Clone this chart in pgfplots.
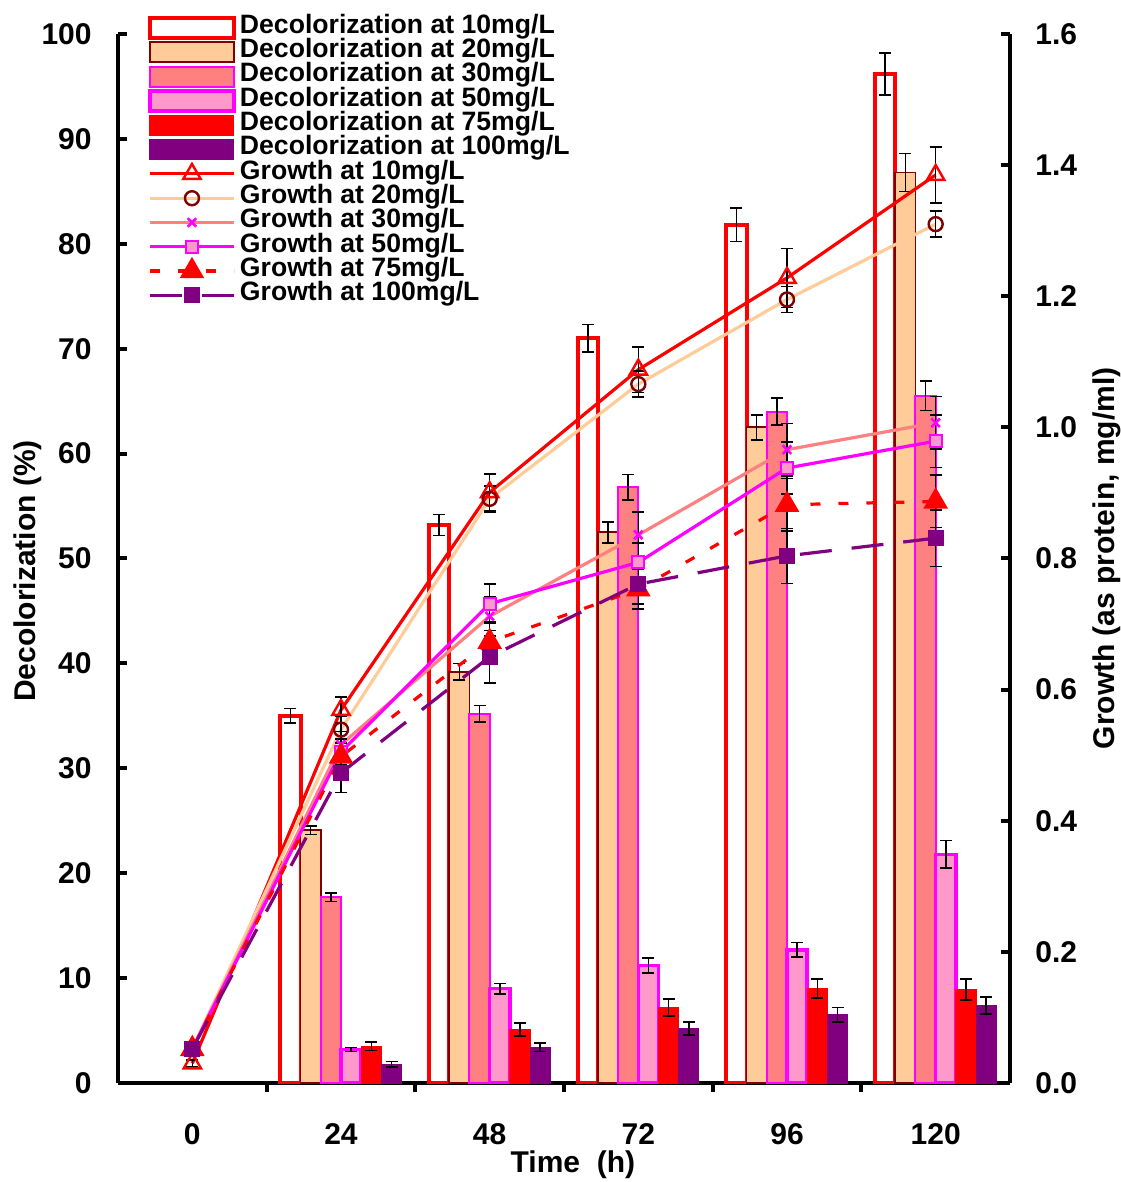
\documentclass[border=0pt]{standalone}
\usepackage{fontspec}
\setmainfont{Liberation Sans}
\usepackage{pgfplots}
\usepackage{pgfplotstable}
\pgfplotsset{compat=1.18}
\definecolor{peach}{HTML}{FFCC99}
\definecolor{dkred}{HTML}{800000}
\definecolor{salmon}{HTML}{FF8080}
\definecolor{pinkfill}{HTML}{FF99CC}
\definecolor{mag}{HTML}{FF00FF}
\definecolor{purp}{HTML}{800080}
\pgfplotstableread{
x d10 e10 d20 e20 d30 e30 d50 e50 d75 e75 d100 e100
1 35.0 0.7 24.1 0.4 17.7 0.4 3.2 0.2 3.5 0.4 1.8 0.25
2 53.2 1.0 39.2 0.8 35.2 0.8 9.0 0.5 5.1 0.6 3.4 0.4
3 71.0 1.3 52.5 1.0 56.8 1.2 11.2 0.7 7.2 0.8 5.2 0.6
4 81.8 1.6 62.5 1.2 64.0 1.3 12.7 0.7 9.0 0.9 6.5 0.7
5 96.2 2.0 86.8 1.8 65.5 1.4 21.8 1.3 8.9 1.0 7.4 0.8
}\bars
\pgfplotstableread{
x g10 ge10 g20 ge20 g30 ge30 g50 ge50 g75 ge75 g100 ge100
0 0.030 0.005 0.052 0.005 0.052 0.005 0.052 0.005 0.052 0.005 0.052 0.005
1 0.569 0.020 0.539 0.020 0.516 0.020 0.505 0.020 0.498 0.020 0.473 0.030
2 0.901 0.028 0.891 0.020 0.712 0.030 0.731 0.030 0.673 0.030 0.650 0.040
3 1.088 0.035 1.066 0.020 0.836 0.035 0.794 0.030 0.753 0.030 0.761 0.030
4 1.228 0.045 1.195 0.020 0.966 0.040 0.938 0.040 0.882 0.040 0.804 0.042
5 1.385 0.043 1.310 0.020 1.007 0.040 0.979 0.040 0.887 0.040 0.831 0.043
}\growth
\pgfplotsset{
  common/.style={
    scale only axis, width=446pt, height=524.5pt,
    xmin=-0.5, xmax=5.5,
    tick align=inside,
    axis line style={-, line width=2.2pt, black},
    tick style={black, line width=2pt},
    major tick length=4.5pt, minor tick length=4.5pt,
    /pgf/number format/assume math mode=true,
    ticklabel style={font=\bfseries\fontsize{15}{15}\selectfont, inner sep=0pt},
    label style={font=\bfseries\fontsize{15}{15}\selectfont, inner sep=0pt},
  },
  lineleg/.style={legend image code/.code={\draw[mark repeat=2,mark phase=2,##1] plot coordinates {(0pt,0pt) (21pt,0pt) (42pt,0pt)};}},
  ebars/.style={error bars/.cd, y dir=both, y explicit,
    error bar style={black, line width=0.8pt, solid},
    error mark options={rotate=90, black, line width=0.8pt, mark size=3pt, solid}},
}
\begin{document}
\begin{tikzpicture}
\useasboundingbox (-59pt,-49.5pt) rectangle (501pt,541.5pt);
\begin{axis}[common,
  axis y line*=left, axis x line*=bottom,
  ymin=0, ymax=100, ytick={0,10,...,100},
  xtick={0,...,5}, xticklabels={0,24,48,72,96,120},
  major x tick style={draw=none},
  minor xtick={0.5,1.5,2.5,3.5,4.5},
  yticklabel style={anchor=east, xshift=-13pt},
  xticklabel style={anchor=north, yshift=-15.5pt},
  xlabel={Time\ \ (h)},
  xlabel style={at={(axis description cs:0.51,-0.0639)}, anchor=north},
  ylabel={Decolorization (\%)},
  ylabel style={at={(axis description cs:-0.1177,0.488)}, anchor=north},
  ybar, bar width=0.136,
]
\addplot[ybar, bar shift=-0.34, draw=red, line width=2pt, fill=white, ebars] table[x=x, y=d10, y error=e10]{\bars};
\addplot[ybar, bar shift=-0.204, draw=dkred, line width=0.9pt, fill=peach, ebars] table[x=x, y=d20, y error=e20]{\bars};
\addplot[ybar, bar shift=-0.068, draw=mag, line width=1pt, fill=salmon, ebars] table[x=x, y=d30, y error=e30]{\bars};
\addplot[ybar, bar shift=0.068, draw=mag, line width=1.8pt, fill=pinkfill, ebars] table[x=x, y=d50, y error=e50]{\bars};
\addplot[ybar, bar shift=0.204, draw=red, line width=0.5pt, fill=red, ebars] table[x=x, y=d75, y error=e75]{\bars};
\addplot[ybar, bar shift=0.34, draw=purp, line width=0.5pt, fill=purp, ebars] table[x=x, y=d100, y error=e100]{\bars};
\end{axis}
\begin{axis}[common,
  axis y line*=right, axis x line=none,
  ymin=0, ymax=1.6, ytick={0,0.2,0.4,0.6,0.8,1.0,1.2,1.4,1.6},
  yticklabel style={anchor=west, xshift=12.5pt, /pgf/number format/.cd, fixed, fixed zerofill, precision=1},
  ylabel={Growth (as protein, mg/ml)},
  ylabel style={at={(axis description cs:1.0919,0.5)}, anchor=north},
  lineleg,
  legend style={at={(axis description cs:0.0336,1.0172)}, anchor=north west, draw=none, fill=none,
    inner sep=0pt, outer sep=0pt, row sep=0pt,
    font=\bfseries\fontsize{13.3}{13.3}\selectfont,
    nodes={inner sep=0pt, text height=8.7pt, text depth=3.45pt},
    /tikz/every odd column/.append style={column sep=2pt}},
  legend cell align=left,
]
\addlegendimage{legend image code/.code={\draw[draw=red,line width=2pt,fill=white] (0pt,-5pt) rectangle (42pt,5pt);}}
\addlegendentry{Decolorization at 10mg/L}
\addlegendimage{legend image code/.code={\draw[draw=dkred,line width=0.9pt,fill=peach] (0pt,-5pt) rectangle (42pt,5pt);}}
\addlegendentry{Decolorization at 20mg/L}
\addlegendimage{legend image code/.code={\draw[draw=mag,line width=1pt,fill=salmon] (0pt,-5pt) rectangle (42pt,5pt);}}
\addlegendentry{Decolorization at 30mg/L}
\addlegendimage{legend image code/.code={\draw[draw=mag,line width=1.8pt,fill=pinkfill] (0pt,-5pt) rectangle (42pt,5pt);}}
\addlegendentry{Decolorization at 50mg/L}
\addlegendimage{legend image code/.code={\draw[draw=red,line width=0.5pt,fill=red] (0pt,-5pt) rectangle (42pt,5pt);}}
\addlegendentry{Decolorization at 75mg/L}
\addlegendimage{legend image code/.code={\draw[draw=purp,line width=0.5pt,fill=purp] (0pt,-5pt) rectangle (42pt,5pt);}}
\addlegendentry{Decolorization at 100mg/L}
\addplot[red, line width=1.6pt, mark=triangle, mark size=5pt, mark options={solid, fill=white, draw=red, line width=1.2pt}, ebars] table[x=x, y=g10, y error=ge10]{\growth};
\addlegendentry{Growth at 10mg/L}
\addplot[peach, line width=1.6pt, mark=o, mark size=3.5pt, mark options={solid, fill=white, draw=dkred, line width=1.2pt}, ebars] table[x=x, y=g20, y error=ge20]{\growth};
\addlegendentry{Growth at 20mg/L}
\addplot[salmon, line width=1.6pt, mark=x, mark size=3pt, mark options={solid, draw=mag, line width=1.3pt}, ebars] table[x=x, y=g30, y error=ge30]{\growth};
\addlegendentry{Growth at 30mg/L}
\addplot[mag, line width=1.6pt, mark=square*, mark size=3pt, mark options={solid, fill=pinkfill, draw=mag, line width=1pt}, ebars] table[x=x, y=g50, y error=ge50]{\growth};
\addlegendentry{Growth at 50mg/L}
\addplot[red, line width=1.6pt, dash pattern=on 5pt off 9pt, mark=triangle*, mark size=5.5pt, mark options={solid, fill=red, draw=red}, ebars] table[x=x, y=g75, y error=ge75]{\growth};
\addlegendentry{Growth at 75mg/L}
\addplot[purp, line width=1.6pt, dash pattern=on 16pt off 10pt, mark=square*, mark size=3.2pt, mark options={solid, fill=purp, draw=purp}, ebars] table[x=x, y=g100, y error=ge100]{\growth};
\addlegendentry{Growth at 100mg/L}
\end{axis}
\end{tikzpicture}
\end{document}
